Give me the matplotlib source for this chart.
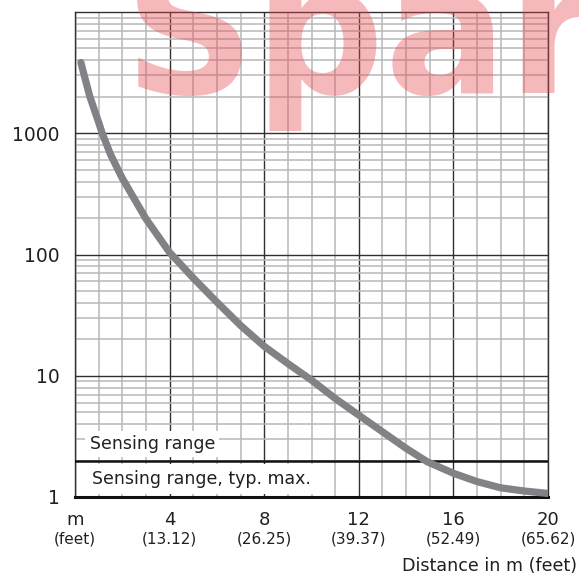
import numpy as np
import matplotlib
matplotlib.use("Agg")
from matplotlib import pyplot as plt
from matplotlib.ticker import LogLocator, MultipleLocator, NullFormatter

# curve (distance in m, ratio on log scale)
distance = [0.25, 0.39, 0.63, 1.0, 1.15, 1.5, 2.0, 3.0, 4.0, 5.0, 6.0, 7.0, 8.0, 9.0, 10.0, 11.0,
            12.0, 13.0, 14.0, 14.9, 16.0, 17.0, 18.0, 19.0, 20.0]
ratio = [3830, 3000, 2000, 1230, 1000, 670, 425, 197, 104, 64, 40.5, 26, 17.5, 12.6, 9.2, 6.5,
         4.73, 3.45, 2.52, 1.95, 1.57, 1.34, 1.19, 1.12, 1.07]

x_ticks = [0, 4, 8, 12, 16, 20]
x_labels = ['m', '4', '8', '12', '16', '20']
feet_labels = ['(feet)', '(13.12)', '(26.25)', '(39.37)', '(52.49)', '(65.62)']
y_ticks = [1, 10, 100, 1000]
y_labels = ['1', '10', '100', '1000']
sensing_limit = 2

plt.rcParams['font.family'] = ['DejaVu Sans']
txt = '#231f20'

fig = plt.figure(figsize=(5.79, 5.79), dpi=100)
ax = fig.add_axes([75 / 579, 1 - 497 / 579, 473 / 579, 485 / 579])
ax.set_yscale('log')
ax.set_xlim(0, 20)
ax.set_ylim(1, 10000)

ax.xaxis.set_major_locator(MultipleLocator(4))
ax.xaxis.set_minor_locator(MultipleLocator(1))
ax.yaxis.set_major_locator(LogLocator(base=10))
ax.yaxis.set_minor_locator(LogLocator(base=10, subs=np.arange(2, 10)))
ax.yaxis.set_minor_formatter(NullFormatter())

ax.grid(which='minor', color='#b8b8b8', lw=1.1)
ax.grid(which='major', color='#303030', lw=1.0)
ax.set_axisbelow(True)

ax.set_xticks(x_ticks)
ax.set_xticklabels([])
ax.set_yticks(y_ticks)
ax.set_yticklabels(y_labels, fontsize=13.5, color=txt)
ax.tick_params(which='both', length=0)
ax.tick_params(axis='y', pad=11)

tr = ax.get_xaxis_transform()
for x, lab, ft in zip(x_ticks, x_labels, feet_labels):
    ax.text(x, -0.047, lab, transform=tr, ha='center', va='center', fontsize=13, color=txt)
    ax.text(x, -0.087, ft, transform=tr, ha='center', va='center', fontsize=11, color=txt)

for s in ['left', 'right', 'top']:
    ax.spines[s].set_color('#303030')
    ax.spines[s].set_linewidth(1.0)
ax.spines['bottom'].set_color('#111111')
ax.spines['bottom'].set_linewidth(2.2)

ax.axhline(sensing_limit, color='#111111', lw=1.8, zorder=3)

ax.text(0.62, 2.72, 'Sensing range', fontsize=12.5, color=txt, va='center', ha='left',
        bbox=dict(facecolor='white', edgecolor='none', pad=3), zorder=4)
ax.text(0.72, 1.41, 'Sensing range, typ. max.', fontsize=12.5, color=txt, va='center', ha='left',
        bbox=dict(facecolor='white', edgecolor='none', pad=4.5), zorder=4)

ax.plot(distance, ratio, color='#808285', lw=5.2, solid_capstyle='round', solid_joinstyle='round', zorder=5)

fig.text(577 / 579, 1 - 566 / 579, 'Distance in m (feet)', ha='right', va='center',
         fontsize=12.6, color=txt)

# watermark
fig.text(124 / 579, 1 - 93 / 579, 'Spar', fontsize=131, fontweight='bold', color='#e8474c',
         alpha=0.38, ha='left', va='baseline', zorder=10)

fig.savefig('out.png', dpi=100)
